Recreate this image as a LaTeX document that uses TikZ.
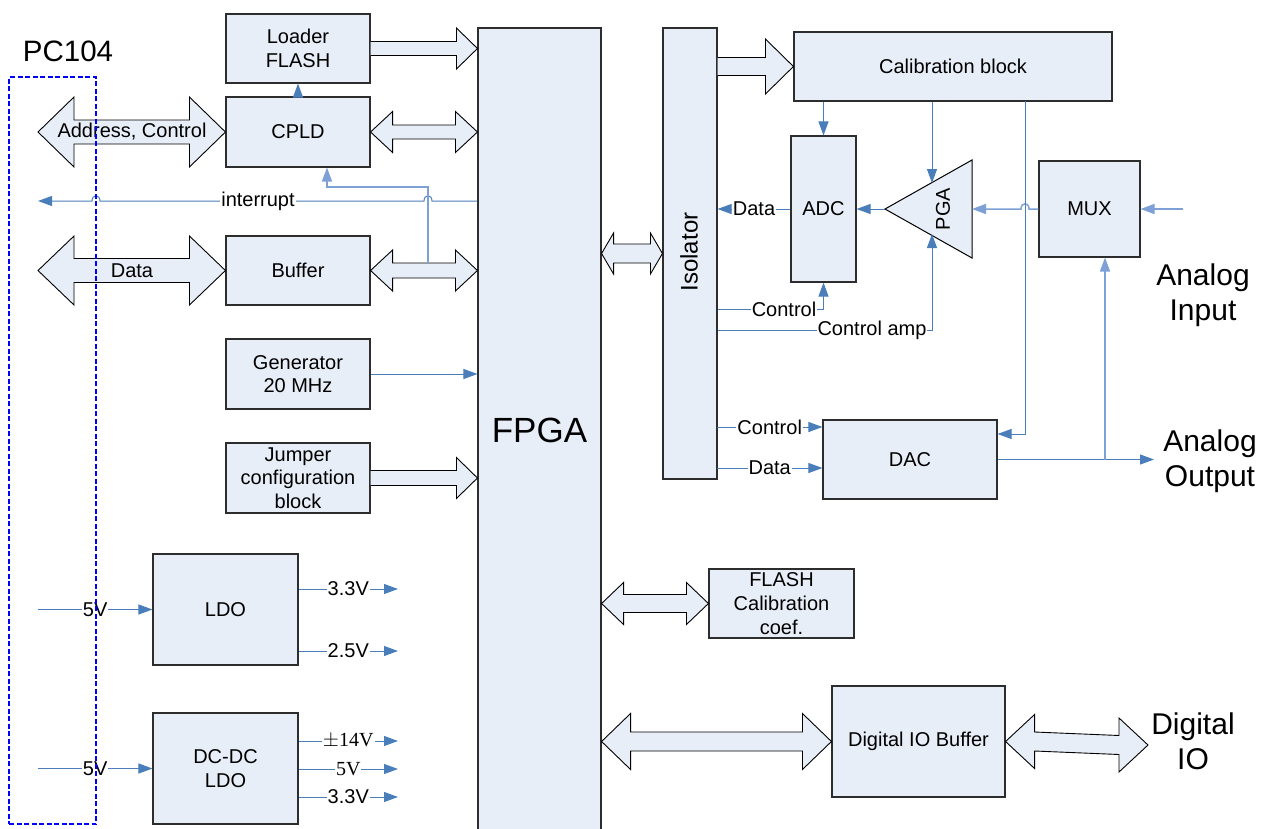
\documentclass[tikz,border=0pt]{standalone}
\usepackage{fontspec}
\setmainfont{Liberation Sans}
\newfontfamily\seriffont{Liberation Serif}
\usetikzlibrary{arrows.meta,calc}
\definecolor{boxfill}{RGB}{232,238,247}
\definecolor{linkblue}{RGB}{74,126,187}
\definecolor{lightlink}{RGB}{125,160,215}
\definecolor{edgegray}{RGB}{45,45,45}
% double fat arrow: #1 left tip, #2 right tip, #3 shaft half, #4 head half, #5 head length
\newcommand\fatD[5]{%
  \path[fat] let \p1=(#1), \p2=(#2) in
   (\x1,\y1) -- (\x1+#5pt,\y1+#4pt) -- (\x1+#5pt,\y1+#3pt) -- (\x2-#5pt,\y2+#3pt) --
   (\x2-#5pt,\y2+#4pt) -- (\x2,\y2) -- (\x2-#5pt,\y2-#4pt) -- (\x2-#5pt,\y2-#3pt) --
   (\x1+#5pt,\y1-#3pt) -- (\x1+#5pt,\y1-#4pt) -- cycle;}
% single fat arrow: #1 tail, #2 tip
\newcommand\fatS[5]{%
  \path[fat] let \p1=(#1), \p2=(#2) in
   (\x1,\y1+#3pt) -- (\x2-#5pt,\y2+#3pt) -- (\x2-#5pt,\y2+#4pt) -- (\x2,\y2) --
   (\x2-#5pt,\y2-#4pt) -- (\x2-#5pt,\y2-#3pt) -- (\x1,\y1-#3pt);}
\begin{document}
\begin{tikzpicture}[x=1pt,y=-1pt,
  blk/.style={draw=edgegray, line width=1.1pt, fill=boxfill, inner sep=0pt, align=center,
              font=\fontsize{20}{23.5}\selectfont},
  conn/.style={draw=linkblue, line width=1pt, -{Triangle[length=14pt,width=10pt]}},
  lconn/.style={draw=lightlink, line width=1.5pt, -{Triangle[length=14pt,width=10pt]}},
  lbl/.style={fill=white, inner sep=1pt, font=\fontsize{20}{23}\selectfont},
  fat/.style={draw=black, line width=0.9pt, fill=boxfill, line join=miter},
  big/.style={font=\fontsize{30}{35}\selectfont, align=center, inner sep=0pt},
]
\useasboundingbox (0,0) rectangle (1262,828);

% ---------- left column boxes ----------
\node[blk, minimum width=144pt, minimum height=69pt] (loader) at (298,48.5) {Loader\\FLASH};
\node[blk, minimum width=144pt, minimum height=70pt] (cpld) at (298,132) {CPLD};
\node[blk, minimum width=144pt, minimum height=69pt] (buffer) at (298,270.5) {Buffer};
\node[blk, minimum width=144pt, minimum height=70pt] (gen) at (298,374) {Generator\\20 MHz};
\node[blk, minimum width=144pt, minimum height=70pt] (jumper) at (298,478) {Jumper\\configuration\\block};
\node[blk, minimum width=145pt, minimum height=111pt] (ldo) at (225.5,609.5) {LDO};
\node[blk, minimum width=145pt, minimum height=111pt] (dcdc) at (225.5,768.5) {DC-DC\\LDO};

% ---------- FPGA and right side ----------
\node[blk, minimum width=123pt, minimum height=804pt, font=\fontsize{35}{40}\selectfont] (fpga) at (539.5,430) {FPGA};
\node[blk, minimum width=54pt, minimum height=451pt] (iso) at (690,253.5) {};
\node[rotate=90, font=\fontsize{24}{28}\selectfont, inner sep=0pt] (isotext) at (689,252) {Isolator};
\node[blk, minimum width=318pt, minimum height=69pt] (cal) at (953,66.5) {Calibration block};
\node[blk, minimum width=65pt, minimum height=146pt] (adc) at (823.5,209) {ADC};
\node[blk, minimum width=101pt, minimum height=96pt] (mux) at (1089.5,209) {MUX};
\node[blk, minimum width=174pt, minimum height=79pt] (dac) at (910,459.5) {DAC};
\node[blk, minimum width=145pt, minimum height=69pt, font=\fontsize{20}{24}\selectfont] (flashcal) at (781.5,603.5) {FLASH\\Calibration\\coef.};
\node[blk, minimum width=173pt, minimum height=111pt] (dio) at (918.5,741.5) {Digital IO Buffer};

% PGA triangle
\coordinate (pgaTip) at (885,209);
\coordinate (pgaTR) at (972,160);
\coordinate (pgaBR) at (972,258);
\path[draw=black, line width=1pt, fill=boxfill] (pgaTip) -- (pgaTR) -- (pgaBR) -- cycle;
\node[rotate=90, font=\fontsize{20}{23}\selectfont, inner sep=0pt] (pga) at (943,209) {PGA};
\coordinate (pgaR) at (972,209);
\coordinate (pgaTop) at (932,183);
\coordinate (pgaBot) at (932,234);

% big labels
\node[font=\fontsize{29.5}{34}\selectfont, inner sep=0pt] (pc104) at (68,51) {PC104};
\node[big] (ain) at (1203,295) {Analog\\Input};
\node[big] (aout) at (1210,461) {Analog\\Output};
\node[big] (dig) at (1193,741) {Digital\\IO};

% ---------- fat arrows ----------
\fatS{loader.east}{loader.east -| fpga.west}{7}{20.5}{21}
\fatD{cpld.east}{cpld.east -| fpga.west}{7}{20.5}{22}
\coordinate (pcA) at (38,132);
\fatD{pcA}{cpld.west}{12}{35}{36}
\node[font=\fontsize{20}{23}\selectfont, inner sep=0pt] (addr) at (132,132) {Address, Control};
\coordinate (pcD) at (38,270.5);
\fatD{pcD}{buffer.west}{12}{34.5}{36}
\node[font=\fontsize{20}{23}\selectfont, inner sep=0pt] (datal) at (132,270.5) {Data};
\fatD{buffer.east}{buffer.east -| fpga.west}{7.5}{20.5}{22}
\fatS{jumper.east}{jumper.east -| fpga.west}{7.5}{20.5}{21}
\fatD{iso.west -| fpga.east}{iso.west}{9.5}{20.5}{12}
\fatS{cal.west -| iso.east}{cal.west}{9}{27.5}{28}
\fatD{flashcal.west -| fpga.east}{flashcal.west}{9}{21}{22}
\fatD{dio.west -| fpga.east}{dio.west}{9.5}{28}{29}
\coordinate (dioR) at (1148,745);
\fatD{dio.east}{dioR}{9.5}{27}{29}

% ---------- thin connectors, left ----------
\draw[conn] (cpld.north) -- (loader.south);
\coordinate (intEnd) at (38,201);
\draw[conn] (fpga.west |- intEnd) -- (432,201) .. controls (432,194) and (424,194) .. (424,201)
   -- (100,201) .. controls (100,194) and (92,194) .. (92,201) -- (intEnd);
\node[lbl] (intlbl) at (258,201) {interrupt};
\coordinate (fbA) at (428,263);
\coordinate (fbB) at (327,187);
\draw[lconn] (fbA) |- (fbB) -- (fbB |- cpld.south);
\draw[conn] (gen.east) -- (gen.east -| fpga.west);

\coordinate (p5a) at (38,609.5);
\draw[conn] (p5a) -- (ldo.west) node[lbl, midway] {5V};
\coordinate (o33a) at (398,589);
\draw[conn] (ldo.east |- o33a) -- (o33a) node[lbl, midway] {3.3V};
\coordinate (o25) at (398,651);
\draw[conn] (ldo.east |- o25) -- (o25) node[lbl, midway] {2.5V};
\coordinate (p5b) at (38,768.5);
\draw[conn] (p5b) -- (dcdc.west) node[lbl, midway] {5V};
\coordinate (o14) at (398,741);
\draw[conn] (dcdc.east |- o14) -- (o14) node[lbl, midway, font=\seriffont\fontsize{20}{23}\selectfont] {$\pm$14V};
\coordinate (o5) at (398,769);
\draw[conn] (dcdc.east |- o5) -- (o5) node[lbl, midway, font=\seriffont\fontsize{20}{23}\selectfont] {5V};
\coordinate (o33b) at (398,797);
\draw[conn] (dcdc.east |- o33b) -- (o33b) node[lbl, midway] {3.3V};

% ---------- thin connectors, right ----------
\draw[conn] (adc.west) -- (adc.west -| iso.east) node[lbl, midway] {Data};
\draw[conn] (pgaTip) -- (adc.east |- pgaTip);
\draw[conn] (cal.south -| adc.north) -- (adc.north);
\draw[conn] (cal.south -| pgaTop) -- (pgaTop);
\coordinate (ctlA) at (823.5,309);
\draw[conn] (iso.east |- ctlA) -- (ctlA) -- (adc.south);
\node[lbl] (ctlAl) at (784,309) {Control};
\coordinate (ctlP) at (932,330);
\draw[conn] (iso.east |- ctlP) -- (ctlP) -- (pgaBot);
\node[lbl] (ctlPl) at (872,330) {Control amp};
\draw[lconn] (mux.west) -- (1029,209) .. controls (1029,202) and (1021,202) .. (1021,209) -- (pgaR);
\coordinate (ainS) at (1183,209);
\draw[lconn] (ainS) -- (mux.east);
\coordinate (calD) at (1025,101);
\coordinate (calDac) at (1025,434);
\draw[conn] (calD) -- (calDac) -- (dac.east |- calDac);
\coordinate (aoutE) at (1154,459.5);
\draw[conn] (dac.east |- aoutE) -- (aoutE);
\coordinate (tap) at (1105,459.5);
\draw[lconn] (tap) -- (tap |- mux.south);
\coordinate (dctl) at (717,427);
\draw[conn] (dctl) -- (dctl -| dac.west) node[lbl, midway] {Control};
\coordinate (ddat) at (717,468);
\draw[conn] (ddat) -- (ddat -| dac.west) node[lbl, midway] {Data};

% ---------- PC104 dashed outline (on top) ----------
\node[draw=blue, dashed, dash pattern=on 5pt off 2.5pt, line width=1.5pt, minimum width=87pt, minimum height=747pt, inner sep=0pt] (pcbox) at (52.5,450.5) {};
\end{tikzpicture}
\end{document}
